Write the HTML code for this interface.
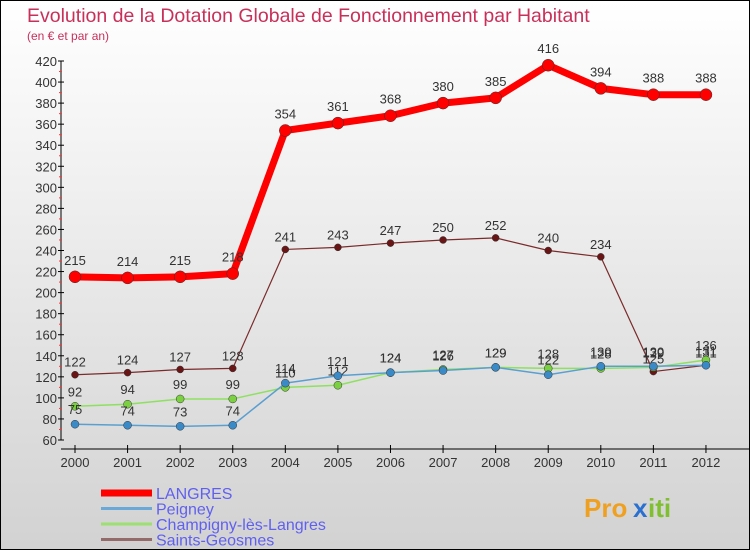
<!DOCTYPE html>
<html><head><meta charset="utf-8"><style>
body{margin:0}
#c{width:748px;height:548px;border:1px solid #000;background:linear-gradient(#fff,#d2d2d2);position:relative;overflow:hidden;font-family:"Liberation Sans",sans-serif}
</style></head><body>
<div id="c">
<svg id="s" width="748" height="548"></svg>
</div>
<script>
const years=[2000,2001,2002,2003,2004,2005,2006,2007,2008,2009,2010,2011,2012];
const langres=[215,214,215,218,354,361,368,380,385,416,394,388,388];
const peigney=[75,74,73,74,114,121,124,126,129,122,130,130,131];
const champigny=[92,94,99,99,110,112,124,127,129,128,128,129,136];
const saints=[122,124,127,128,241,243,247,250,252,240,234,125,131];
const yTicks=[60,80,100,120,140,160,180,200,220,240,260,280,300,320,340,360,380,400,420];
const NS='http://www.w3.org/2000/svg';
const s=document.getElementById('s');
const X=i=>74+i*52.58;
const Y=v=>439-(v-60)*(379/360);
function el(t,a,p){const e=document.createElementNS(NS,t);for(const k in a)e.setAttribute(k,a[k]);(p||s).appendChild(e);return e;}
function tx(x,y,str,a){const e=el('text',Object.assign({x:x,y:y},a));e.textContent=str;return e;}
let t=tx(26,21,'Evolution de la Dotation Globale de Fonctionnement par Habitant',{fill:'#c8305a','font-size':'19.5'});

t=tx(26,39,'(en € et par an)',{fill:'#c8305a','font-size':'12'});

let g=el('g',{});
el('line',{x1:60,y1:Y(420),x2:60,y2:Y(60),stroke:'#000'},g);
yTicks.forEach(v=>{el('line',{x1:57,y1:Y(v),x2:63,y2:Y(v),stroke:'#000'},g);
 if(v<420)el('line',{x1:58,y1:Y(v+10),x2:61,y2:Y(v+10),stroke:'#f33'},g);
 tx(56,Y(v)+5,String(v),{'text-anchor':'end','font-size':'13',fill:'#333'},g);});
g=el('g',{});
el('line',{x1:60,y1:448,x2:748,y2:448,stroke:'#000'},g);
years.forEach((y,i)=>{el('line',{x1:X(i),y1:444,x2:X(i),y2:452,stroke:'#000'},g);
 tx(X(i),466,String(y),{'text-anchor':'middle','font-size':'13',fill:'#333'},g);});
function series(name,data,color,w,r,dot,lab){
 const gg=el('g',{});
 el('polyline',{points:data.map((v,i)=>X(i)+','+Y(v)).join(' '),fill:'none',stroke:color,'stroke-width':w,'stroke-linejoin':'round'},gg);
 data.forEach((v,i)=>{const c=el('circle',{cx:X(i),cy:Y(v),r:r,fill:dot,stroke:'#333','stroke-width':0.5},gg);
  
  tx(X(i),Y(v)-(lab),String(v),{'text-anchor':'middle','font-size':'13',fill:'#333'},gg);});
}
series('series-saints-geosmes',saints,'#7a2a2a',1.2,3.5,'#6a1515',8);
series('series-champigny',champigny,'#8ee060',1.5,4,'#7ad040',10);
series('series-peigney',peigney,'#5a9fd0',1.5,4,'#3a8ac8',10);
series('series-langres',langres,'#f00',7,6,'#f00',12);
const leg=[['LANGRES','#f00',7],['Peigney','#6aa8d8',3],['Champigny-lès-Langres','#9be070',3],['Saints-Geosmes','#946b6b',3]];
leg.forEach((l,i)=>{const gg=el('g',{});
 el('line',{x1:100,y1:492+i*15.5,x2:151,y2:492+i*15.5,stroke:l[1],'stroke-width':l[2]},gg);
 tx(155,498+i*15.5,l[0],{'font-size':'16',fill:'#6060f0'},gg);});
t=tx(583,516,'Pro',{'font-size':'26','font-weight':'bold',fill:'#f0a020'});

tx(632,516,'x',{'font-size':'26','font-weight':'bold',fill:'#2a70d0'});
tx(647,516,'iti',{'font-size':'26','font-weight':'bold',fill:'#80c030'});
</script>
</body></html>
